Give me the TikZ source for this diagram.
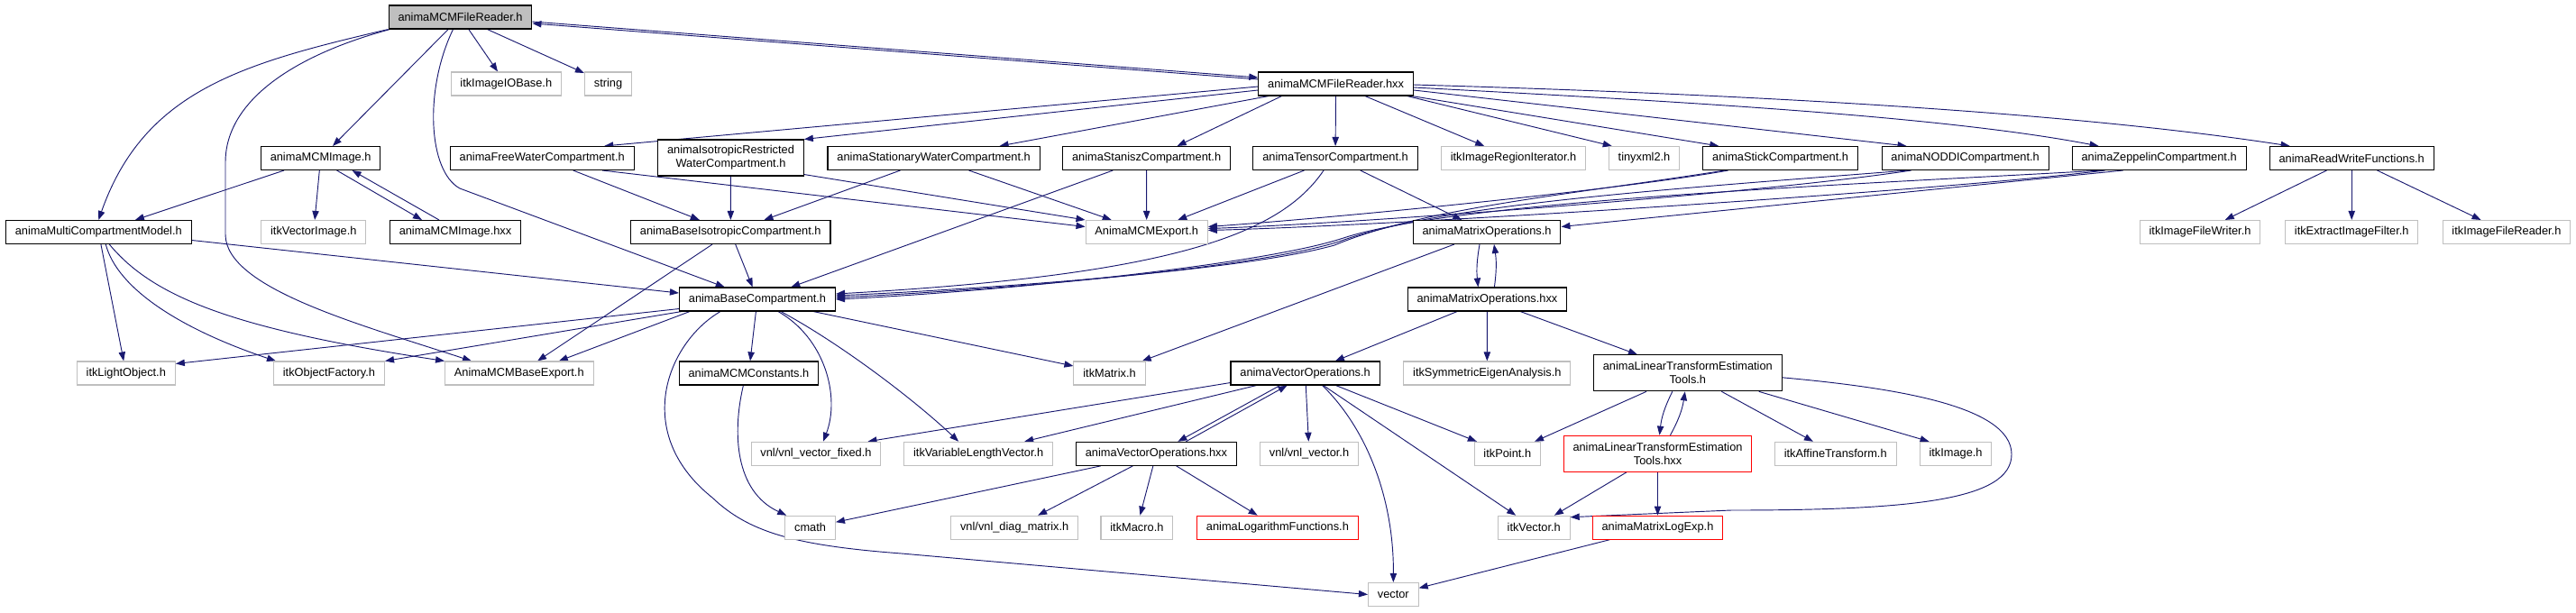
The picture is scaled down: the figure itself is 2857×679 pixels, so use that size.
\documentclass[tikz,border=0pt]{standalone}
\usepackage{fontspec}
\setmainfont{Liberation Sans}
\usetikzlibrary{arrows.meta, calc, backgrounds}
\definecolor{edgeblue}{RGB}{25, 25, 112}
\definecolor{boxgray}{RGB}{191, 191, 191}
\definecolor{trunred}{RGB}{255, 0, 0}

\begin{document}
\begin{tikzpicture}[
    x=0.75pt, y=-0.75pt,
    filebox/.style={
        draw=black, line width=0.8pt, fill=white,
        font=\fontsize{9.6}{11.3}\selectfont, align=center,
        inner xsep=7.8pt, inner ysep=2pt, minimum height=19.5pt
    },
    rootbox/.style={filebox, fill=boxgray},
    extbox/.style={filebox, draw=boxgray},
    trunbox/.style={filebox, draw=trunred},
    tallbox/.style={minimum height=30pt},
    arrow/.style={-{Triangle[length=7.5pt, width=5.5pt]}, edgeblue, line width=0.7pt}
]
\useasboundingbox (0,0) rectangle (2857,679);

% ROOT FILE - top row
\node[rootbox] (readerh) at (510.5, 19) {animaMCMFileReader.h};

% FIRST INCLUDES
\node[extbox] (iobase) at (561.3, 93) {itkImageIOBase.h};
\node[extbox] (string) at (674.5, 93) {string};
\node[filebox] (readerhxx) at (1481.6, 93) {animaMCMFileReader.hxx};

% COMPARTMENT ROW
\node[filebox] (mcmimage) at (355.6, 175.5) {animaMCMImage.h};
\node[filebox] (freewater) at (601.2, 175.5) {animaFreeWaterCompartment.h};
\node[filebox, tallbox] (isowater) at (810.5, 175) {animaIsotropicRestricted\\WaterCompartment.h};
\node[filebox] (statwater) at (1035.6, 175.5) {animaStationaryWaterCompartment.h};
\node[filebox] (stanisz) at (1271.6, 175.5) {animaStaniszCompartment.h};
\node[filebox] (tensor) at (1481, 175.5) {animaTensorCompartment.h};
\node[extbox] (regioniter) at (1678.5, 175.5) {itkImageRegionIterator.h};
\node[extbox] (tinyxml) at (1823.5, 175.5) {tinyxml2.h};
\node[filebox] (stick) at (1974.6, 175.5) {animaStickCompartment.h};
\node[filebox] (noddi) at (2179.6, 175.5) {animaNODDICompartment.h};
\node[filebox] (zeppelin) at (2394.6, 175.5) {animaZeppelinCompartment.h};
\node[filebox] (readwrite) at (2608.2, 175.5) {animaReadWriteFunctions.h};

% MODEL ROW
\node[filebox] (multicomp) at (109.3, 257.5) {animaMultiCompartmentModel.h};
\node[extbox] (vecimage) at (347.8, 257.5) {itkVectorImage.h};
\node[filebox] (mcmimagehxx) at (505, 257.5) {animaMCMImage.hxx};
\node[filebox] (baseiso) at (810.3, 257.5) {animaBaseIsotropicCompartment.h};
\node[extbox] (mcmexport) at (1271.7, 257.5) {AnimaMCMExport.h};
\node[filebox] (matops) at (1649, 257.5) {animaMatrixOperations.h};
\node[extbox] (filewriter) at (2440, 257.5) {itkImageFileWriter.h};
\node[extbox] (extract) at (2608.2, 257.5) {itkExtractImageFilter.h};
\node[extbox] (filereader) at (2779.9, 257.5) {itkImageFileReader.h};

\node[filebox] (basecomp) at (840, 332) {animaBaseCompartment.h};
\node[filebox] (matopshxx) at (1649.4, 332) {animaMatrixOperations.hxx};

% LOWER ROWS
\node[extbox] (lightobj) at (139.8, 414) {itkLightObject.h};
\node[extbox] (objfactory) at (365, 414) {itkObjectFactory.h};
\node[extbox] (baseexport) at (575.8, 414) {AnimaMCMBaseExport.h};
\node[filebox] (constants) at (830.4, 414) {animaMCMConstants.h};
\node[extbox] (itkmatrix) at (1230.5, 414) {itkMatrix.h};
\node[filebox] (vecops) at (1447.6, 414) {animaVectorOperations.h};
\node[extbox] (eigen) at (1649.3, 414) {itkSymmetricEigenAnalysis.h};
\node[filebox, tallbox] (lintools) at (1871.8, 413.8) {animaLinearTransformEstimation\\Tools.h};

\node[extbox] (vecfixed) at (905, 503.3) {vnl/vnl\_vector\_fixed.h};
\node[extbox] (varlength) at (1085.2, 503.3) {itkVariableLengthVector.h};
\node[filebox] (vecopshxx) at (1282.4, 503.3) {animaVectorOperations.hxx};
\node[extbox] (vnlvector) at (1452, 503.3) {vnl/vnl\_vector.h};
\node[extbox] (itkpoint) at (1671.8, 503.3) {itkPoint.h};
\node[trunbox, tallbox] (lintoolshxx) at (1838.5, 503.2) {animaLinearTransformEstimation\\Tools.hxx};
\node[extbox] (affine) at (2035.7, 503.3) {itkAffineTransform.h};
\node[extbox] (itkimage) at (2169, 503.3) {itkImage.h};

\node[extbox] (cmath) at (898.6, 585.2) {cmath};
\node[extbox] (diagmatrix) at (1125.2, 585.2) {vnl/vnl\_diag\_matrix.h};
\node[extbox] (itkmacro) at (1260.9, 585.2) {itkMacro.h};
\node[trunbox] (logfunc) at (1416.9, 585.2) {animaLogarithmFunctions.h};
\node[extbox] (itkvector) at (1701.2, 585.2) {itkVector.h};
\node[trunbox] (logexp) at (1838.5, 585.2) {animaMatrixLogExp.h};

\node[extbox] (vector) at (1545.3, 659.5) {vector};

% EDGES - kept behind the boxes
\begin{scope}[on background layer]
% ARROWS: FILE READER
\draw[arrow] (readerh.south west) .. controls (270,70) and (160,100) .. (multicomp.north);
\draw[arrow] ($(readerh.south west)+(2,0)$) .. controls (330,60) and (250,110) .. (250,180) -- (250,260) .. controls (250,320) and (400,360) .. ($(baseexport.north west)+(30,0)$);
\draw[arrow] (readerh) -- (mcmimage);
\draw[arrow] ($(readerh.south)+(-8,0)$) .. controls (470,100) and (475,190) .. (510,209) -- (basecomp);
\draw[arrow] (readerh) -- (iobase);
\draw[arrow] (readerh) -- (string);
\draw[arrow] ($(readerh.east)+(0,5)$) -- ($(readerhxx.west)+(0,-7)$);
\draw[arrow] ($(readerhxx.west)+(0,-5)$) -- ($(readerh.east)+(0,7)$);

% ARROWS: FILE READER HXX
\draw[arrow] ($(readerhxx.west)+(0,3)$) -- ($(freewater.north)+(69,0)$);
\draw[arrow] ($(readerhxx.west)+(0,7)$) -- (isowater.north east);
\draw[arrow] ($(readerhxx.south west)+(12,0)$) -- ($(statwater.north)+(73,0)$);
\draw[arrow] ($(readerhxx.south)+(-60,0)$) -- ($(stanisz.north)+(34,0)$);
\draw[arrow] (readerhxx) -- (tensor);
\draw[arrow] (readerhxx) -- (regioniter);
\draw[arrow] ($(readerhxx.south)+(79,0)$) -- ($(tinyxml.north west)+(4,0)$);
\draw[arrow] ($(readerhxx.south east)+(-2,0)$) -- ($(stick.north west)+(18,0)$);
\draw[arrow] ($(readerhxx.east)+(0,7)$) -- ($(noddi.north west)+(28,0)$);
\draw[arrow] ($(readerhxx.east)+(0,4)$) .. controls (1850,112) and (2150,128) .. ($(zeppelin.north west)+(30,0)$);
\draw[arrow] ($(readerhxx.east)+(0,1)$) .. controls (1950,105) and (2300,125) .. ($(readwrite.north west)+(23,0)$);

% ARROWS: READ WRITE
\draw[arrow] (readwrite) -- (filewriter);
\draw[arrow] (readwrite) -- (extract);
\draw[arrow] (readwrite) -- (filereader);

% ARROWS: MCM IMAGE
\draw[arrow] (mcmimage) -- (multicomp);
\draw[arrow] (mcmimage) -- (vecimage);
\draw[arrow] ($(mcmimage.south)+(18,0)$) -- ($(mcmimagehxx.north)+(-37,0)$);
\draw[arrow] ($(mcmimagehxx.north)+(-18,0)$) -- ($(mcmimage.south)+(35,0)$);

% ARROWS: MULTI COMPARTMENT MODEL
\draw[arrow] ($(multicomp.east)+(0,9)$) -- ($(basecomp.west)+(0,-7)$);
\draw[arrow] (multicomp) -- (lightobj);
\draw[arrow] ($(multicomp.south)+(8,0)$) .. controls (130,320) and (200,365) .. ($(objfactory.north west)+(3,0)$);
\draw[arrow] ($(multicomp.south)+(12,0)$) .. controls (170,330) and (260,365) .. (baseexport.north west);

% ARROWS: COMPARTMENTS
\draw[arrow] (freewater) -- (baseiso);
\draw[arrow] ($(freewater.south)+(67,0)$) -- ($(mcmexport.west)+(0,-6)$);
\draw[arrow] (isowater) -- (baseiso);
\draw[arrow] ($(isowater.south east)+(0,-2)$) -- (mcmexport.north west);
\draw[arrow] (statwater) -- (baseiso);
\draw[arrow] (statwater) -- (mcmexport);
\draw[arrow] (stanisz) -- (mcmexport);
\draw[arrow] (stanisz) -- (basecomp);
\draw[arrow] (tensor) -- (mcmexport);
\draw[arrow] ($(tensor.south)+(-13,0)$) .. controls (1420,260) and (1300,305) .. ($(basecomp.east)+(0,-6)$);
\draw[arrow] (tensor) -- (matops);
\draw[arrow] ($(stick.south)+(-58,0)$) .. controls (1800,210) and (1500,240) .. ($(mcmexport.east)+(0,-6)$);
\draw[arrow] ($(stick.south)+(-62,0)$) .. controls (1750,215) and (1580,230) .. (1480,272) .. controls (1380,300) and (1100,320) .. ($(basecomp.east)+(0,-4)$);
\draw[arrow] ($(noddi.south)+(-60,0)$) .. controls (1950,215) and (1500,248) .. ($(mcmexport.east)+(0,-4)$);
\draw[arrow] ($(noddi.south)+(-64,0)$) .. controls (1850,210) and (1600,226) .. (1485,268) .. controls (1390,298) and (1100,322) .. ($(basecomp.east)+(0,-2)$);
\draw[arrow] ($(zeppelin.south)+(-60,0)$) .. controls (2150,212) and (1550,250) .. ($(mcmexport.east)+(0,-2)$);
\draw[arrow] ($(zeppelin.south)+(-64,0)$) .. controls (2050,205) and (1620,222) .. (1490,264) .. controls (1400,294) and (1100,324) .. (basecomp.east);
\draw[arrow] ($(zeppelin.south)+(-40,0)$) -- ($(matops.east)+(0,-6)$);

% ARROWS: BASE COMPARTMENTS
\draw[arrow] (baseiso) -- (basecomp);
\draw[arrow] (baseiso) -- (baseexport);
\draw[arrow] ($(basecomp.south west)+(0,-3)$) -- ($(lightobj.north east)+(0,3)$);
\draw[arrow] ($(basecomp.south west)+(3,0)$) -- (objfactory.north east);
\draw[arrow] ($(basecomp.south)+(-75,0)$) -- ($(baseexport.north)+(44,0)$);
\draw[arrow] (basecomp) -- (constants);
\draw[arrow] ($(basecomp.south)+(23,0)$) .. controls (915,375) and (932,440) .. ($(vecfixed.north)+(8,0)$);
\draw[arrow] ($(basecomp.south)+(26,0)$) .. controls (930,380) and (1010,440) .. ($(varlength.north)+(-22,0)$);
\draw[arrow] ($(basecomp.south east)+(-25,0)$) -- ($(itkmatrix.west)+(0,-8)$);
\draw[arrow] ($(basecomp.south)+(-41,0)$) .. controls (740,380) and (700,480) .. (790,552) .. controls (830,590) and (880,605) .. (1000,614) -- (vector.west);

% ARROWS: MATRIX OPERATIONS
\draw[arrow] ($(matops.south)+(-8,0)$) to[bend right=8] ($(matopshxx.north)+(-10,0)$);
\draw[arrow] ($(matopshxx.north)+(8,0)$) to[bend right=8] ($(matops.south)+(8,0)$);
\draw[arrow] (matops) -- (itkmatrix);
\draw[arrow] (matopshxx) -- (vecops);
\draw[arrow] (matopshxx) -- (eigen);
\draw[arrow] (matopshxx) -- (lintools);

% ARROWS: VECTOR OPERATIONS
\draw[arrow] ($(vecops.south west)+(0,-3)$) -- ($(vecfixed.north east)+(-15,0)$);
\draw[arrow] ($(vecops.south west)+(29,0)$) -- ($(varlength.north)+(51,0)$);
\draw[arrow] ($(vecops.south)+(-28,0)$) -- ($(vecopshxx.north)+(24,0)$);
\draw[arrow] ($(vecopshxx.north)+(33,0)$) -- ($(vecops.south)+(-20,0)$);
\draw[arrow] (vecops) -- (vnlvector);
\draw[arrow] (vecops) -- (itkpoint);
\draw[arrow] (vecops) -- (itkvector);
\draw[arrow] ($(vecops.south)+(19,0)$) .. controls (1520,480) and (1546,560) .. (vector.north);
\draw[arrow] ($(vecopshxx.south west)+(28,0)$) -- ($(cmath.east)+(0,-6)$);
\draw[arrow] (vecopshxx) -- (diagmatrix);
\draw[arrow] (vecopshxx) -- (itkmacro);
\draw[arrow] (vecopshxx) -- (logfunc);
\draw[arrow] ($(constants.south)+(-6,0)$) .. controls (812,480) and (815,545) .. ($(cmath.north west)+(2,0)$);

% ARROWS: LINEAR TRANSFORM TOOLS
\draw[arrow] (lintools) -- (itkpoint);
\draw[arrow] ($(lintools.south)+(-17,0)$) to[bend right=10] ($(lintoolshxx.north)+(2,0)$);
\draw[arrow] ($(lintoolshxx.north)+(14,0)$) to[bend right=10] ($(lintools.south)+(-3,0)$);
\draw[arrow] (lintools) -- (affine);
\draw[arrow] ($(lintools.south east)+(-26,0)$) -- ($(itkimage.north west)+(11,0)$);
\draw[arrow] ($(lintools.east)+(0,5)$) .. controls (2100,430) and (2231,450) .. (2231,504) .. controls (2231,555) and (2120,566) .. (1920,566) -- ($(itkvector.north east)+(0,2)$);
\draw[arrow] (lintoolshxx) -- (itkvector);
\draw[arrow] (lintoolshxx) -- (logexp);
\draw[arrow] (logexp) -- (vector);
\end{scope}

\end{tikzpicture}
\end{document}
